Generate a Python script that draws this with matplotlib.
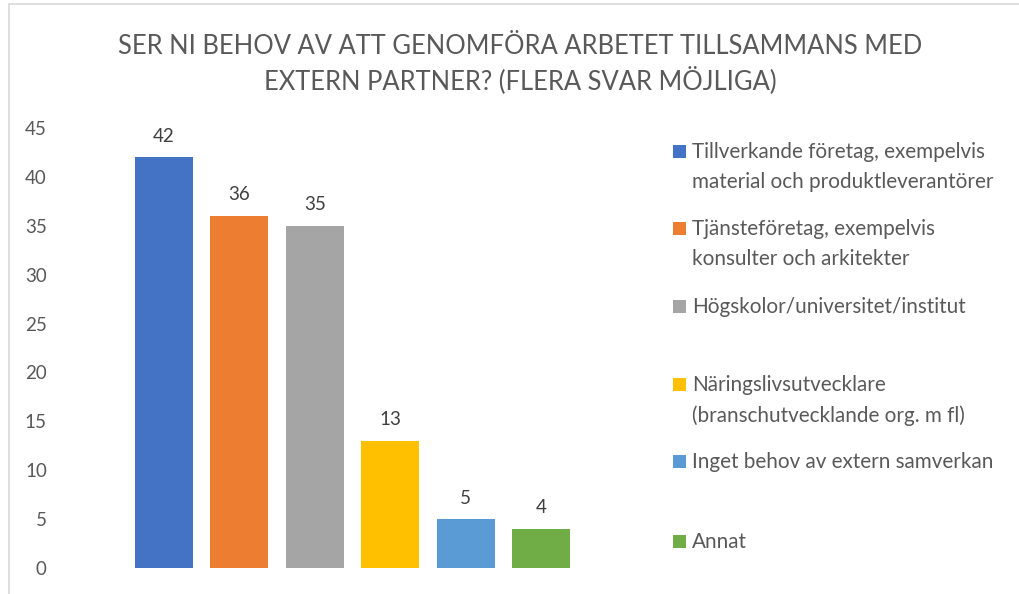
import matplotlib.pyplot as plt
from matplotlib.patches import Rectangle

plt.rcParams['font.family'] = ['Lato', 'DejaVu Sans']

# data
categories = ['Tillverkande företag, exempelvis\nmaterial och produktleverantörer',
              'Tjänsteföretag, exempelvis\nkonsulter och arkitekter',
              'Högskolor/universitet/institut',
              'Näringslivsutvecklare\n(branschutvecklande org. m fl)',
              'Inget behov av extern samverkan',
              'Annat']
values = [42, 36, 35, 13, 5, 4]
colors = ['#4472C4', '#ED7D31', '#A5A5A5', '#FFC000', '#5B9BD5', '#70AD47']
yticks = [0, 5, 10, 15, 20, 25, 30, 35, 40, 45]

W, H = 1020, 594
fig = plt.figure(figsize=(W/100, H/100), dpi=100)

# chart frame (only left and top visible)
fig.patches.append(Rectangle((9/W, -0.1), 1.2, (H+0.1*H-4)/H, transform=fig.transFigure,
                             fill=False, edgecolor='#D9D9D9', linewidth=1.2))

ax = fig.add_axes([126/W, (H-568)/H, 453/W, 440/H])
x = list(range(len(values)))
bars = ax.bar(x, values, width=0.77, color=colors)
for b, v in zip(bars, values):
    ax.annotate(str(v), (b.get_x()+b.get_width()/2, v), xytext=(0, 9), textcoords='offset points',
                ha='center', va='bottom', fontsize=13.5, color='#404040')

ax.set_xlim(-0.5, 5.5)
ax.set_ylim(0, 45)
ax.set_yticks(yticks)
ax.set_xticks([])
ax.tick_params(axis='y', length=0, pad=57, labelsize=13.5, labelcolor='#595959')
for s in ax.spines.values():
    s.set_visible(False)

fig.text(520/W, 1-47/H, 'SER NI BEHOV AV ATT GENOMFÖRA ARBETET TILLSAMMANS MED',
         ha='center', va='center', fontsize=18.4, color='#595959')
fig.text(520/W, 1-80/H, 'EXTERN PARTNER? (FLERA SVAR MÖJLIGA)',
         ha='center', va='center', fontsize=18.4, color='#595959')

# legend
leg_y = [152, 229, 307, 385, 462, 542]
for lab, c, yy in zip(categories, colors, leg_y):
    fig.patches.append(Rectangle((673/W, 1-(yy+6)/H), 13/W, 13/H, transform=fig.transFigure,
                                 facecolor=c, edgecolor='none'))
    fig.text(692/W, 1-(yy-10)/H, lab, ha='left', va='top', fontsize=14.9,
             color='#595959', linespacing=1.6)

fig.savefig('out.png', dpi=100)
